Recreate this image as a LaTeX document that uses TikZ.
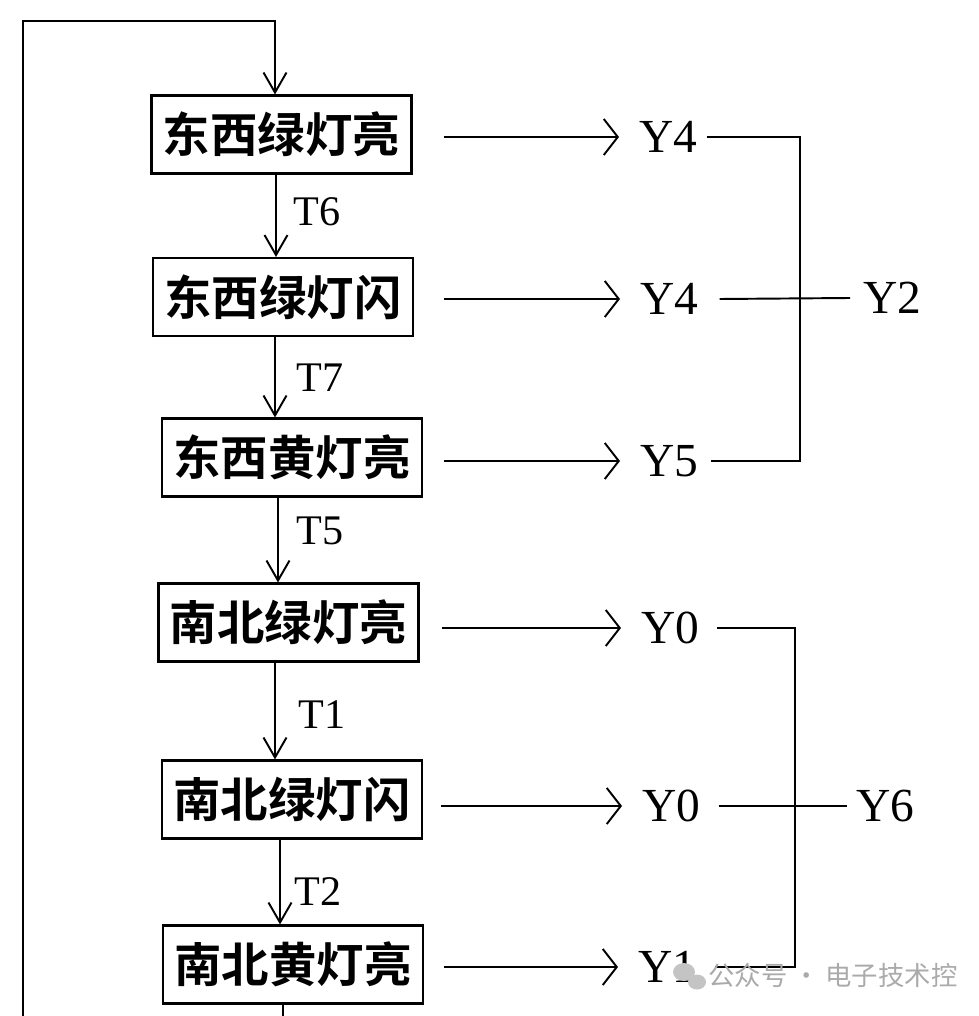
\documentclass[tikz,border=0pt]{standalone}
\usepackage{fontspec}
\setmainfont{Liberation Serif}
\newfontfamily\cjk{Noto Sans CJK SC Bold}
\newfontfamily\cjklight{Noto Sans CJK SC}
\usetikzlibrary{arrows.meta,positioning}
\definecolor{wmgray}{RGB}{170,170,170}

\begin{document}
\begin{tikzpicture}[
                x=0.02cm, y=-0.02cm,
                lamp/.style={
                        draw, line width=1.2pt, inner sep=0pt,
                        minimum width=5.2cm, minimum height=1.56cm,
                        font=\cjk\fontsize{27}{30}\selectfont
                    },
                port/.style={inner sep=0pt, anchor=west, font=\fontsize{27}{30}\selectfont},
                cond/.style={inner sep=0pt, font=\fontsize{24}{26}\selectfont},
                wire/.style={line width=1.1pt},
                varr/.style={wire, -{Straight Barb[length=0.4cm,width=0.46cm]}},
                harr/.style={wire, shorten >=0.4cm, -{Straight Barb[length=0.28cm,width=0.72cm]}}
                ]
                \useasboundingbox (0,0) rectangle (978,1016);
                \clip (0,0) rectangle (978,1016);

                % states
                \node[lamp] (ewgreen) at (281.5,134.5) {东西绿灯亮};
                \node[lamp] (ewflash) at (283,297) {东西绿灯闪};
                \node[lamp] (ewyellow) at (292,457.5) {东西黄灯亮};
                \node[lamp] (nsgreen) at (288.5,622.5) {南北绿灯亮};
                \node[lamp] (nsflash) at (292,799.5) {南北绿灯闪};
                \node[lamp] (nsyellow) at (293,964.5) {南北黄灯亮};

                % timers
                \node[cond] (t6) at (317,212) {T6};
                \node[cond] (t7) at (320,378) {T7};
                \node[cond] (t5) at (320,531) {T5};
                \node[cond] (t1) at (322,715) {T1};
                \node[cond] (t2) at (318,892) {T2};

                % outputs
                \node[port] (ya) at (639,137) {Y4};
                \node[port] (yb) at (640,299) {Y4};
                \node[port] (yc) at (640,461) {Y5};
                \node[port] (yd) at (641,628) {Y0};
                \node[port] (ye) at (642,806) {Y0};
                \node[port] (yf) at (638,967) {Y1};
                \node[port] (ytwo) at (863,298) {Y2};
                \node[port] (ysix) at (856,806) {Y6};
                \coordinate (ka) at (800,298);
                \coordinate (kb) at (795,806);

                \draw[varr] (ewgreen.south -| 276,0) -- (ewflash.north -| 276,0);
                \draw[varr] (ewflash.south -| 275,0) -- (ewyellow.north -| 275,0);
                \draw[varr] (ewyellow.south -| 278,0) -- (nsgreen.north -| 278,0);
                \draw[varr] (nsgreen.south -| 275,0) -- (nsflash.north -| 275,0);
                \draw[varr] (nsflash.south -| 280,0) -- (nsyellow.north -| 280,0);
                \draw[varr] (nsyellow.south -| 283,0) |- (23,1040) |- (275,21) -- (ewgreen.north -| 275,0);

                \draw[harr, shorten <=0.62cm] (ewgreen.east |- ya) -- (ya);
                \draw[harr, shorten <=0.6cm] (ewflash.east |- yb) -- (yb);
                \draw[harr, shorten <=0.42cm] (ewyellow.east |- yc) -- (yc);
                \draw[harr, shorten <=0.44cm] (nsgreen.east |- yd) -- (yd);
                \draw[harr, shorten <=0.36cm] (nsflash.east |- ye) -- (ye);
                \draw[harr, shorten <=0.4cm] (nsyellow.east |- yf) -- (yf);

                \draw[wire] ([xshift=0.18cm]ya.east) -| (ka) |- ([xshift=0.24cm]yc.east);
                \draw[wire] ([xshift=0.42cm]yb.east) -- ([xshift=-0.26cm]ytwo.west);
                \draw[wire] ([xshift=0.34cm]yd.east) -| (kb) |- ([xshift=0.36cm]yf.east);
                \draw[wire] ([xshift=0.36cm]ye.east) -- ([xshift=-0.18cm]ysix.west);

                % watermark
                \fill[wmgray!70] (684,972) ellipse (11 and 9);
                \fill[wmgray!70] (697,982) ellipse (9 and 7.5);
                \node[inner sep=0pt, anchor=west, text=wmgray, font=\cjklight\fontsize{15}{17}\selectfont] (mark) at (708,975) {公众号 · 电子技术控};
            \end{tikzpicture}
\end{document}
